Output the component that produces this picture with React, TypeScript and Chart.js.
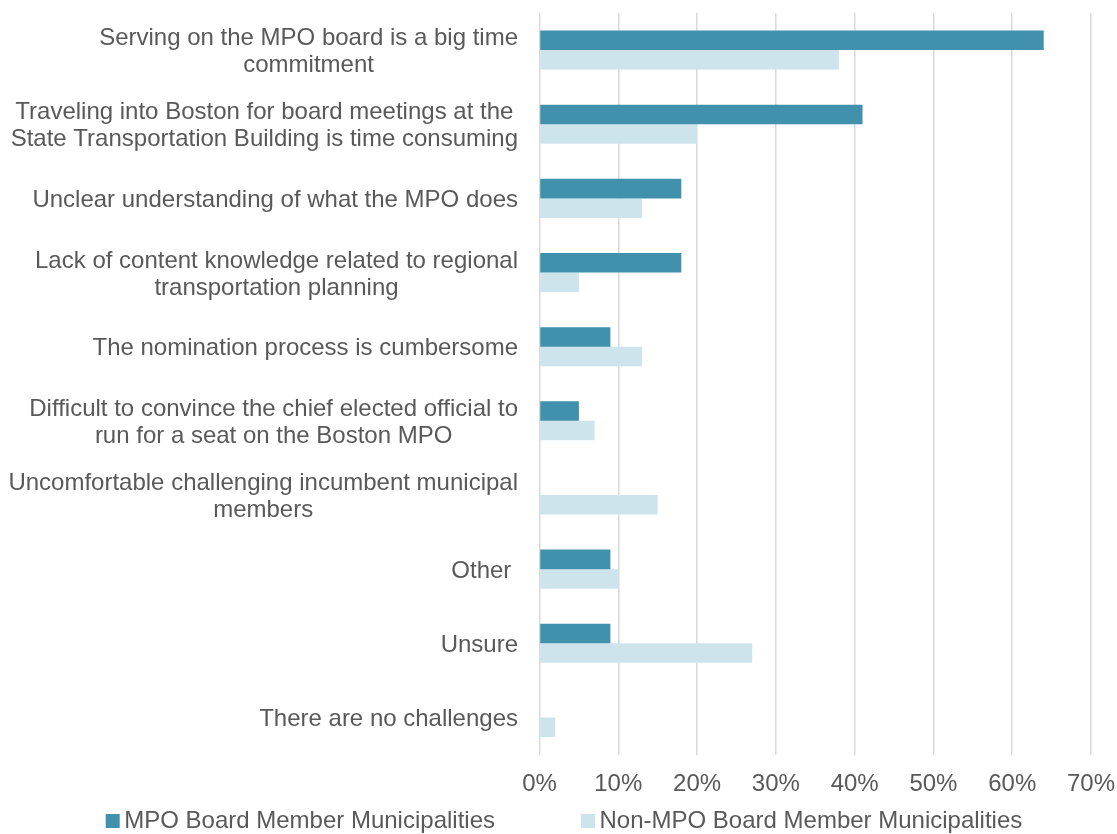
import React, { useEffect, useRef } from "react";
import { Chart, registerables } from "chart.js";

Chart.register(...registerables);

const categories: (string | string[])[] = [
  ["Serving on the MPO board is a big time", "commitment"],
  ["Traveling into Boston for board meetings at the", "State Transportation Building is time consuming"],
  "Unclear understanding of what the MPO does",
  ["Lack of content knowledge related to regional", "transportation planning"],
  "The nomination process is cumbersome",
  ["Difficult to convince the chief elected official to", "run for a seat on the Boston MPO"],
  ["Uncomfortable challenging incumbent municipal", "members"],
  "Other ",
  "Unsure",
  "There are no challenges",
];

const mpoValues = [64, 41, 18, 18, 9, 5, 0, 9, 9, 0];
const nonMpoValues = [38, 20, 13, 5, 13, 7, 15, 10, 27, 2];

const seriesNames = ["MPO Board Member Municipalities", "Non-MPO Board Member Municipalities"];
const seriesColors = ["#4191AD", "#CDE4EC"];

const xMin = 0;
const xMax = 70;
const xStep = 10;

const FONT = '"Liberation Sans", Arial, sans-serif';
const TEXT = "#595959";

const yLabelPlugin = {
  id: "yLabelsCustom",
  afterDraw(chart: any) {
    const ctx = chart.ctx;
    const yScale = chart.scales.y;
    const right = chart.chartArea.left - 21.5;
    ctx.save();
    ctx.font = `24px ${FONT}`;
    ctx.fillStyle = TEXT;
    ctx.textAlign = "center";
    ctx.textBaseline = "alphabetic";
    (chart.data.labels as (string | string[])[]).forEach((lab, i) => {
      const lines = Array.isArray(lab) ? lab : [lab];
      const maxW = Math.max(...lines.map((l) => ctx.measureText(l).width));
      const cx = right - maxW / 2;
      const c = yScale.getPixelForTick(i);
      lines.forEach((l, j) => {
        const ly = c + (j - (lines.length - 1) / 2) * 27 + 8.6;
        ctx.fillText(l, cx, ly);
      });
    });
    ctx.restore();
  },
};

const legendPlugin = {
  id: "legendCustom",
  afterDraw(chart: any) {
    const ctx = chart.ctx;
    ctx.save();
    ctx.font = `24px ${FONT}`;
    ctx.textBaseline = "alphabetic";
    ctx.textAlign = "left";
    const box = 14;
    const gap = 4.5;
    const spacing = 86;
    const items = chart.data.datasets.map((d: any) => ({
      label: d.label,
      color: d.backgroundColor,
      w: ctx.measureText(d.label).width,
    }));
    const total =
      items.reduce((s: number, it: any) => s + box + gap + it.w, 0) + spacing * (items.length - 1);
    let x = 564 - total / 2;
    const baseline = 828;
    items.forEach((it: any) => {
      ctx.fillStyle = it.color;
      ctx.fillRect(x, baseline - box, box, box);
      ctx.fillStyle = TEXT;
      ctx.fillText(it.label, x + box + gap, baseline);
      x += box + gap + it.w + spacing;
    });
    ctx.restore();
  },
};

export default function App() {
  const ref = useRef<HTMLCanvasElement | null>(null);

  useEffect(() => {
    if (!ref.current) return;
    Chart.defaults.font.family = FONT;
    const chart = new Chart(ref.current, {
      type: "bar",
      data: {
        labels: categories,
        datasets: [
          {
            label: seriesNames[0],
            data: mpoValues,
            backgroundColor: seriesColors[0],
            borderWidth: 0,
            barPercentage: 1,
            categoryPercentage: 0.526,
          },
          {
            label: seriesNames[1],
            data: nonMpoValues,
            backgroundColor: seriesColors[1],
            borderWidth: 0,
            barPercentage: 1,
            categoryPercentage: 0.526,
          },
        ],
      },
      options: {
        indexAxis: "y",
        responsive: false,
        animation: false,
        devicePixelRatio: 1,
        layout: { padding: { top: 13, right: 26, left: 0, bottom: 0 } },
        plugins: {
          legend: { display: false },
          tooltip: { enabled: false },
        },
        scales: {
          x: {
            type: "linear",
            min: xMin,
            max: xMax,
            ticks: {
              stepSize: xStep,
              callback: (v: any) => `${v}%`,
              font: { size: 24, family: FONT },
              color: TEXT,
              padding: 15,
              maxRotation: 0,
            },
            grid: { color: "#D9D9D9", lineWidth: 1.5, drawTicks: false },
            border: { display: false },
            afterFit: (scale: any) => {
              scale.height = 79.5;
              scale.paddingRight = 0;
              scale.paddingLeft = 0;
            },
          },
          y: {
            type: "category",
            ticks: { display: false },
            grid: { display: false },
            border: { display: false },
            afterFit: (scale: any) => {
              scale.width = 539.5;
            },
          },
        },
      },
      plugins: [yLabelPlugin, legendPlugin],
    } as any);
    return () => chart.destroy();
  }, []);

  return (
    <div style={{ position: "fixed", left: 0, top: 0, width: 1117, height: 834, background: "#fff" }}>
      <canvas ref={ref} width={1117} height={834} style={{ width: 1117, height: 834 }} />
    </div>
  );
}
